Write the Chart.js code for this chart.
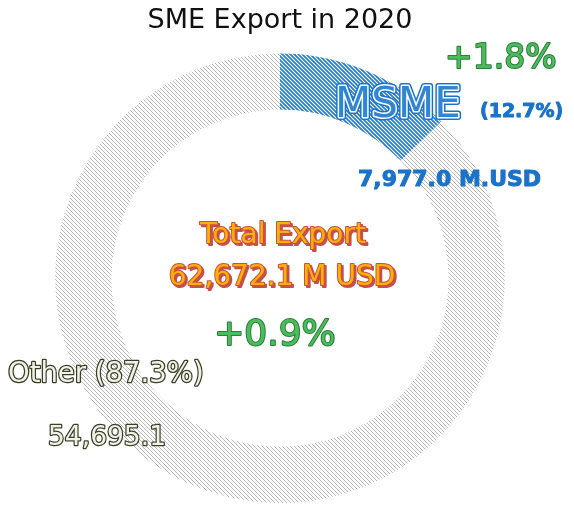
<!DOCTYPE html>
<html>
<head>
<meta charset="utf-8">
<script src="https://cdn.jsdelivr.net/npm/chart.js@4"></script>
<style>
  html, body { margin: 0; padding: 0; background: #fff; }
  #wrap { width: 574px; height: 506px; position: relative; }
</style>
</head>
<body>
<div id="wrap"><canvas id="donut"></canvas></div>
<script>
const categories = ['MSME', 'Other'];
const exportValues = [7977.0, 54695.1];
const shareLabels = ['(12.7%)', '(87.3%)'];
const valueLabels = ['7,977.0 M.USD', '54,695.1'];
const growthLabels = ['+1.8%', '+0.9%'];
const totalLabel = '62,672.1 M USD';

function hatch(color, bg, width) {
  const c = document.createElement('canvas');
  c.width = 4; c.height = 4;
  const g = c.getContext('2d');
  g.fillStyle = bg;
  g.fillRect(0, 0, 4, 4);
  g.strokeStyle = color;
  g.lineWidth = width;
  g.beginPath();
  g.moveTo(-1, -1); g.lineTo(5, 5);
  g.moveTo(-1, 3); g.lineTo(1, 5);
  g.moveTo(3, -1); g.lineTo(5, 1);
  g.stroke();
  return g.createPattern(c, 'repeat');
}

function fancy(ctx, text, x, y, font, fill, stroke, lw, shadow) {
  ctx.font = font;
  ctx.lineJoin = 'round';
  if (shadow) {
    ctx.fillStyle = shadow;
    ctx.fillText(text, x + 2, y + 2);
    ctx.strokeStyle = shadow;
    ctx.lineWidth = lw;
    ctx.strokeText(text, x + 2, y + 2);
  }
  if (stroke) {
    ctx.strokeStyle = stroke;
    ctx.lineWidth = lw;
    ctx.strokeText(text, x, y);
  }
  ctx.fillStyle = fill;
  ctx.fillText(text, x, y);
}

const labelPlugin = {
  id: 'labels',
  afterDraw(chart) {
    const ctx = chart.ctx;
    const arc = chart.getDatasetMeta(0).data[0];
    const cx = arc.x, cy = arc.y;
    ctx.save();
    ctx.textBaseline = 'middle';
    ctx.textAlign = 'center';
    const f = '"DejaVu Sans", sans-serif';

    // centre
    fancy(ctx, 'Total Export', cx + 3, cy - 42, '28px ' + f, '#ffb000', '#c8504a', 2, '#c8504a');
    fancy(ctx, totalLabel, cx + 2, cy + 0, '28px ' + f, '#ffb000', '#c8504a', 2, '#c8504a');
    fancy(ctx, growthLabels[1], cx - 5, cy + 57, '36px ' + f, '#4cbb5c', '#2a7f3a', 2);

    // MSME
    ctx.textAlign = 'left';
    fancy(ctx, growthLabels[0], cx + 165, cy - 219, '33px ' + f, '#4cbb5c', '#2a7f3a', 2);
    ctx.font = '42px ' + f;
    ctx.lineJoin = 'round';
    ctx.strokeStyle = '#1a73c9'; ctx.lineWidth = 6;
    ctx.strokeText(categories[0], cx + 55, cy - 172);
    ctx.strokeStyle = '#ffffff'; ctx.lineWidth = 3;
    ctx.strokeText(categories[0], cx + 55, cy - 172);
    ctx.fillStyle = '#2f86d6';
    ctx.fillText(categories[0], cx + 55, cy - 172);
    fancy(ctx, shareLabels[0], cx + 200, cy - 166, 'bold 19px ' + f, '#1a73c9', '#1a73c9', 1);
    fancy(ctx, valueLabels[0], cx + 78, cy - 98, 'bold 22px ' + f, '#1a73c9', '#1a73c9', 1);

    // Other
    fancy(ctx, categories[1] + ' ' + shareLabels[1], cx - 272, cy + 97, '27.5px ' + f, '#f2f2e4', '#3a3f2a', 2.5);
    fancy(ctx, valueLabels[1], cx - 232, cy + 160, '26.5px ' + f, '#f2f2e4', '#3a3f2a', 2.5);
    ctx.restore();
  }
};

new Chart(document.getElementById('donut').getContext('2d'), {
  type: 'doughnut',
  data: {
    labels: categories,
    datasets: [
      {
        data: exportValues,
        backgroundColor: [hatch('#1e78cf', '#ffffff', 1.6), hatch('#b8b8b8', '#ffffff', 1)],
        borderWidth: 0,
      },
    ],
  },
  options: {
    responsive: true,
    maintainAspectRatio: false,
    animation: false,
    cutout: '75%',
    layout: { padding: { left: 0, right: 14, top: 0, bottom: 3 } },
    events: [],
    plugins: {
      legend: { display: false },
      tooltip: { enabled: false },
      title: {
        display: true,
        text: 'SME Export in 2020',
        color: '#111',
        font: { family: '"DejaVu Sans", sans-serif', size: 27, weight: 'normal' },
        padding: { top: 5, bottom: 16 },
      },
    },
  },
  plugins: [labelPlugin],
});
</script>
</body>
</html>
